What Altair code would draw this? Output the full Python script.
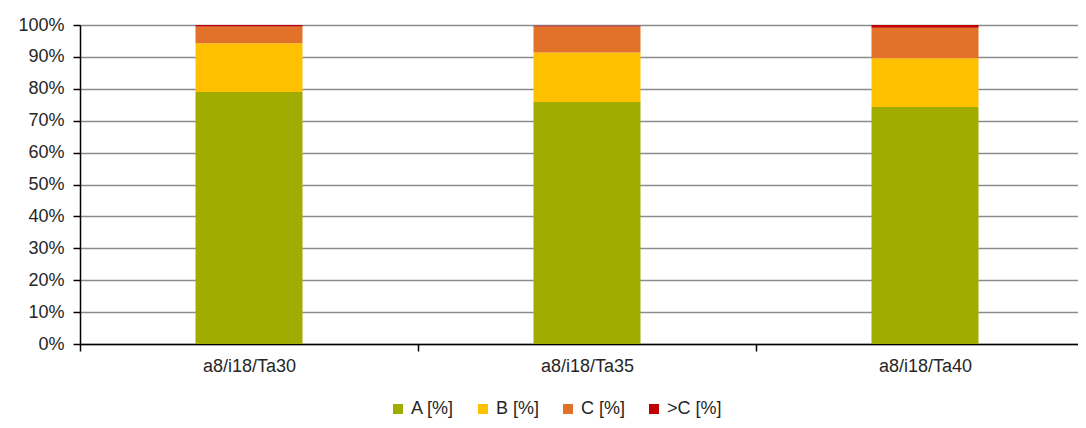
import altair as alt
import pandas as pd

categories = ["a8/i18/Ta30", "a8/i18/Ta35", "a8/i18/Ta40"]
series = ["A [%]", "B [%]", "C [%]", ">C [%]"]
colors = ["#a0ad00", "#ffc000", "#e2712a", "#c00000"]
vals_A = [79.0, 75.9, 74.3]
vals_B = [15.3, 15.5, 15.3]
vals_C = [5.2, 8.1, 9.5]
vals_D = [0.5, 0.25, 0.9]
y_ticks = [0, 10, 20, 30, 40, 50, 60, 70, 80, 90, 100]

rows = []
for s_i, (s, vals) in enumerate(zip(series, [vals_A, vals_B, vals_C, vals_D])):
    for c, v in zip(categories, vals):
        rows.append({"cat": c, "series": s, "value": v, "ord": s_i})
df = pd.DataFrame(rows)

font = "Liberation Sans"

chart = alt.Chart(df).mark_bar(size=107).encode(
    x=alt.X("cat:N", sort=categories, title=None,
            scale=alt.Scale(paddingInner=0, paddingOuter=0, range=[0, 1014]),
            axis=alt.Axis(labelAngle=0, tickBand="extent", domainColor="#000000",
                          domainWidth=1.5, tickColor="#000000", tickWidth=1.5,
                          tickSize=7, labelFontSize=18, labelColor="#262626",
                          labelPadding=6, labelFont=font, grid=False)),
    y=alt.Y("value:Q", stack="zero", title=None,
            scale=alt.Scale(domain=[0, 100], nice=False),
            axis=alt.Axis(values=y_ticks, labelExpr="datum.value + '%'",
                          domainColor="#000000", domainWidth=1.5,
                          tickColor="#000000", tickWidth=1.5, tickSize=7,
                          labelFontSize=18, labelColor="#262626", labelFont=font,
                          labelPadding=9, gridColor="#8c8c8c", gridWidth=1.3)),
    color=alt.Color("series:N", sort=series,
                    scale=alt.Scale(domain=series, range=colors),
                    legend=alt.Legend(orient="none", direction="horizontal",
                                      legendX=309, legendY=375, title=None,
                                      symbolType="square", symbolSize=100,
                                      symbolStrokeWidth=0, labelFontSize=18,
                                      labelFont=font, labelColor="#262626",
                                      columnPadding=19, symbolOffset=0, padding=0)),
    order=alt.Order("ord:Q", sort="ascending"),
).properties(
    width=998, height=319,
    autosize=alt.AutoSizeParams(type="none"),
    padding={"left": 72, "top": 17, "right": 0, "bottom": 76},
).configure_view(stroke=None).configure(background="white")

chart.save("out.html", embed_options={"renderer": "svg", "actions": False})
